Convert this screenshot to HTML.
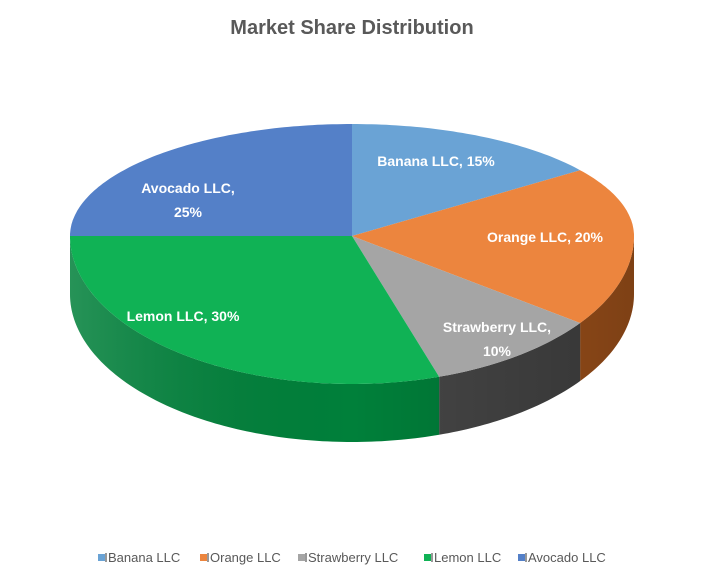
<!DOCTYPE html>
<html><head><meta charset="utf-8"><style>
body{margin:0;background:#fff;}
svg text{font-family:"Liberation Sans",Arial,sans-serif;}
</style></head><body>
<svg id="chart" width="704" height="582" viewBox="0 0 704 582" xmlns="http://www.w3.org/2000/svg">
<defs>
<linearGradient id="sideShade" x1="0" x2="1" y1="0" y2="0">
<stop offset="0" stop-color="#fff" stop-opacity="0.15"/>
<stop offset="0.5" stop-color="#000" stop-opacity="0"/>
<stop offset="1" stop-color="#000" stop-opacity="0.25"/>
</linearGradient>
</defs>
<text x="352" y="34" text-anchor="middle" font-size="20" font-weight="bold" fill="#595959">Market Share Distribution</text>
<g id="sides"></g>
<g id="tops"></g>
<g id="labels"></g>
<g id="legend"></g>
</svg>
<script>
const categories = ["Banana LLC","Orange LLC","Strawberry LLC","Lemon LLC","Avocado LLC"];
const values = [15,20,10,30,25];
const colors = ["#6aa3d5","#ec853e","#a5a5a5","#10b255","#5480c8"];
const sideColors = ["#3f6f9c","#a8561c","#474747","#00803a","#2f5597"];
const labelLines = [["Banana LLC, 15%"],["Orange LLC, 20%"],["Strawberry LLC,","10%"],["Lemon LLC, 30%"],["Avocado LLC,","25%"]];
const labelPos = [[436,166],[545,242],[497,332],[183,321],[188,193]];
const legendX = [98,200,298,424,518];

const NS="http://www.w3.org/2000/svg";
const cx=352, cy=236, rx=282, ryT=112, ryB=148, depth=58;
function pt(a){
  const r=a*Math.PI/180, c=Math.cos(r);
  return [cx+rx*Math.sin(r), cy-(c>0?ryT:ryB)*c];
}
function mk(tag,attrs){const e=document.createElementNS(NS,tag);for(const k in attrs)e.setAttribute(k,attrs[k]);return e;}
const total=values.reduce((s,v)=>s+v,0);
const sides=document.getElementById('sides'), tops=document.getElementById('tops'), labels=document.getElementById('labels'), legend=document.getElementById('legend');
let start=0;
values.forEach((v,i)=>{
  const end=start+v/total*360;
  const s0=Math.max(start,90), s1=Math.min(end,270);
  if(s1>s0){
    let top=[],bot=[];
    for(let a=s0;a<=s1+0.001;a+=1){const p=pt(Math.min(a,s1));top.push(p);bot.push([p[0],p[1]+depth]);}
    const pts=top.concat(bot.reverse()).map(p=>p.join(',')).join(' ');
    const side=mk('polygon',{points:pts,fill:sideColors[i]});
    
    
    sides.appendChild(side);
  }
  let d='M'+cx+','+cy;
  for(let a=start;a<=end+0.001;a+=1){const p=pt(Math.min(a,end));d+=' L'+p[0].toFixed(1)+','+p[1].toFixed(1);}
  d+=' Z';
  const slice=mk('path',{d:d,fill:colors[i]});
  
  
  tops.appendChild(slice);
  const t=mk('text',{x:labelPos[i][0],y:labelPos[i][1],'text-anchor':'middle','font-size':'14','font-weight':'bold',fill:'#fff'});
  
  
  labelLines[i].forEach((ln,j)=>{const ts=mk('tspan',{x:labelPos[i][0],dy:j?24:0});ts.textContent=ln;t.appendChild(ts);});
  labels.appendChild(t);
  const g=mk('g',{});
  
  
  g.appendChild(mk('rect',{x:legendX[i],y:554,width:7,height:7,fill:colors[i]}));
  g.appendChild(mk('rect',{x:legendX[i]+7,y:553,width:2,height:9,fill:'#999'}));
  const lt=mk('text',{x:legendX[i]+10,y:562,'font-size':'13',fill:'#595959'});
  lt.textContent=categories[i];
  g.appendChild(lt);
  legend.appendChild(g);
  start=end;
});
const sh=mk('path',{d:(()=>{let top=[],bot=[];for(let a=90;a<=270;a+=2){const p=pt(a);top.push(p);bot.push([p[0],p[1]+depth]);}return 'M'+top.concat(bot.reverse()).map(p=>p.join(',')).join(' L')+' Z';})(),fill:'url(#sideShade)'});


sides.appendChild(sh);
</script>
</body></html>
